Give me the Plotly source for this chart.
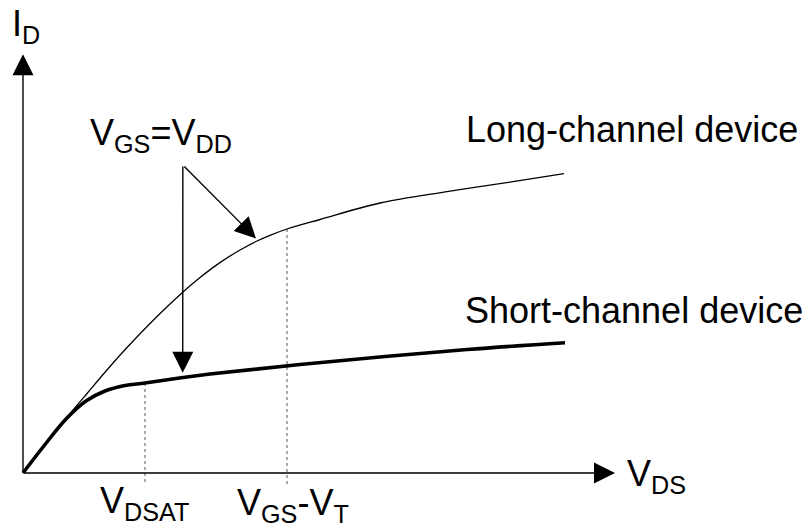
import plotly.graph_objects as go

# ---- data (arbitrary units: V_DS, I_D) ----
vds_long = [0, 0.159, 0.326, 0.485, 0.636, 0.788, 0.985, 1.212, 1.341, 1.492, 1.644, 1.765, 1.871, 2.0,
            2.25, 2.705, 3.212, 3.712, 4.098]
id_long = [0, 0.275, 0.545, 0.795, 1.03, 1.255, 1.525, 1.81, 1.955, 2.104, 2.23, 2.315, 2.377, 2.44,
           2.535, 2.70, 2.813, 2.913, 2.994]

vds_short = [0, 0.152, 0.326, 0.477, 0.621, 0.773, 0.924, 1.212, 1.417, 2.098, 3.364, 4.106]
id_short = [0, 0.26, 0.54, 0.72, 0.82, 0.875, 0.90, 0.955, 0.99, 1.085, 1.235, 1.303]

v_dsat = 0.924       # V_DSAT
v_ov = 2.0           # V_GS - V_T
id_dsat = 0.90       # short-channel current at V_DSAT
id_ov = 2.44         # long-channel current at V_GS - V_T

curve_labels = ["Long-channel device", "Short-channel device"]
axis_labels = ["I<sub>D</sub>", "V<sub>DS</sub>"]
tick_labels = ["V<sub>DSAT</sub>", "V<sub>GS</sub>-V<sub>T</sub>"]
vgs_label = "V<sub>GS</sub>=V<sub>DD</sub>"

FONT = "Liberation Sans, Arial, sans-serif"

fig = go.Figure()

# dotted guide lines
fig.add_trace(go.Scatter(x=[v_dsat, v_dsat], y=[id_dsat, -0.10], mode="lines",
                         line=dict(color="#555555", width=1, dash="dot"), hoverinfo="skip"))
fig.add_trace(go.Scatter(x=[v_ov, v_ov], y=[id_ov, -0.12], mode="lines",
                         line=dict(color="#555555", width=1, dash="dot"), hoverinfo="skip"))

# curves
fig.add_trace(go.Scatter(x=vds_long, y=id_long, mode="lines", line_shape="spline",
                         line=dict(color="black", width=1.3), name=curve_labels[0]))
fig.add_trace(go.Scatter(x=vds_short, y=id_short, mode="lines", line_shape="spline",
                         line=dict(color="black", width=3.6), name=curve_labels[1]))

annotations = []

def arrow(xh, yh, xt, yt, width=1.4, size=3.0):
    annotations.append(dict(x=xh, y=yh, ax=xt, ay=yt, xref="x", yref="y", axref="x", ayref="y",
                            text="", showarrow=True, arrowhead=2, arrowsize=size, arrowwidth=width,
                            arrowcolor="black", standoff=0, startstandoff=0))

# axes
arrow(0, 4.187, 0, 0)
arrow(4.485, 0, 0, 0)
# V_GS = V_DD pointers
arrow(1.21, 1.003, 1.211, 3.08)
arrow(1.765, 2.345, 1.211, 3.08)

def label(x, y, txt):
    annotations.append(dict(x=x, y=y, xref="x", yref="y", text=txt, showarrow=False,
                            xanchor="left", yanchor="top", borderpad=0, borderwidth=0,
                            font=dict(family=FONT, size=36, color="black")))

label(3.359, 3.636, curve_labels[0])
label(3.351, 1.826, curve_labels[1])
label(0.508, 3.606, vgs_label)
label(-0.08, 4.70, axis_labels[0])
label(4.576, 0.196, axis_labels[1])
label(0.583, -0.074, tick_labels[0])
label(1.621, -0.094, tick_labels[1])

fig.update_layout(
    width=812, height=528,
    margin=dict(l=0, r=0, t=0, b=0),
    paper_bgcolor="white", plot_bgcolor="white",
    showlegend=False,
    annotations=annotations,
    xaxis=dict(range=[-23 / 132, 789 / 132], visible=False, fixedrange=True),
    yaxis=dict(range=[-0.55, 4.73], visible=False, fixedrange=True),
)

fig.write_html("out.html")
